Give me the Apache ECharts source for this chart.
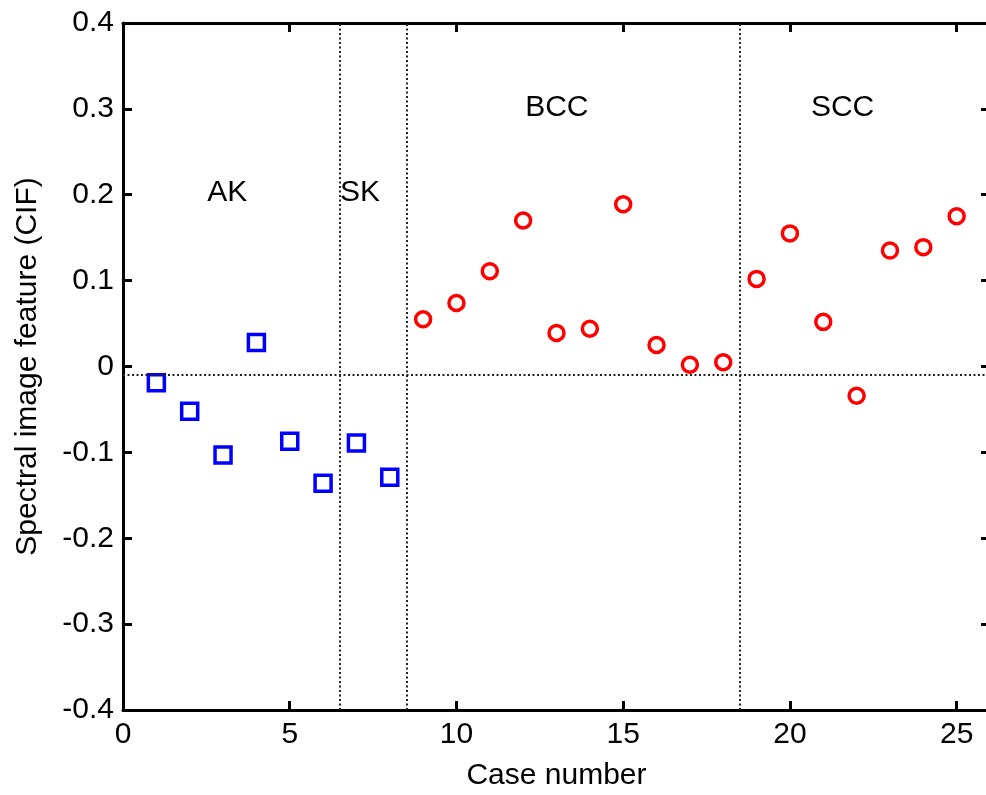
<!DOCTYPE html>
<html>
<head>
<meta charset="utf-8">
<script src="https://cdn.jsdelivr.net/npm/echarts@6/dist/echarts.min.js"></script>
<style>
html, body { margin: 0; padding: 0; background: #fff; }
#chart { width: 986px; height: 795px; }
</style>
</head>
<body>
<div id="chart"></div>
<script>
// Data
var keratosisCases = [1, 2, 3, 4, 5, 6, 7, 8];
var keratosisValues = [-0.019, -0.052, -0.103, 0.028, -0.087, -0.136, -0.089, -0.129];
var carcinomaCases = [9, 10, 11, 12, 13, 14, 15, 16, 17, 18, 19, 20, 21, 22, 23, 24, 25];
var carcinomaValues = [0.055, 0.074, 0.111, 0.170, 0.039, 0.044, 0.189, 0.025, 0.002, 0.005,
                       0.102, 0.155, 0.052, -0.034, 0.135, 0.139, 0.175];
var groupNames = ['AK', 'SK', 'BCC', 'SCC'];
var groupNameX = [3.13, 7.11, 13.01, 21.58];
var groupNameY = [0.202, 0.202, 0.301, 0.301];
var dividers = [6.5, 8.5, 18.5];
var threshold = -0.011;
var yTicks = [-0.4, -0.3, -0.2, -0.1, 0, 0.1, 0.2, 0.3, 0.4];
var xTickStep = 5;

var FONT = 'Liberation Sans, Arial, sans-serif';
var chart = echarts.init(document.getElementById('chart'), null, { renderer: 'canvas' });

function pairs(xs, ys) { return xs.map(function (x, i) { return [x, ys[i]]; }); }

var dotted = { color: '#222', width: 2, type: [2, 2.5], opacity: 1 };
var markLineData = dividers.map(function (d) { return { xAxis: d }; });
markLineData.push({ yAxis: threshold });

var axisLineStyle = { show: true, onZero: false, lineStyle: { color: '#000', width: 3 } };
var tickStyle = { show: true, inside: true, length: 9, lineStyle: { color: '#000', width: 3 } };

var option = {
  backgroundColor: '#fff',
  animation: false,
  grid: { left: 123, top: 23, width: 867, height: 687, containLabel: false, outerBoundsMode: 'none' },
  xAxis: [{
    type: 'value', position: 'bottom', min: 0, max: 26, interval: xTickStep,
    axisLine: axisLineStyle, axisTick: tickStyle, splitLine: { show: false },
    axisLabel: {
      color: '#000', fontSize: 30, fontFamily: FONT, margin: 10,
      formatter: function (v) { return (v % xTickStep === 0) ? String(v) : ''; }
    },
    name: 'Case number', nameLocation: 'middle', nameGap: 51,
    nameTextStyle: { color: '#000', fontSize: 30, fontFamily: FONT }
  }, {
    type: 'value', position: 'top', min: 0, max: 26, interval: xTickStep,
    axisLine: axisLineStyle, axisTick: tickStyle, splitLine: { show: false },
    axisLabel: { show: false }
  }],
  yAxis: [{
    type: 'value', position: 'left', min: yTicks[0], max: yTicks[yTicks.length - 1], interval: 0.1,
    axisLine: axisLineStyle, axisTick: tickStyle, splitLine: { show: false },
    axisLabel: { color: '#000', fontSize: 30, fontFamily: FONT, margin: 9 },
    name: 'Spectral image feature (CIF)', nameLocation: 'middle', nameGap: 80,
    nameTextStyle: { color: '#000', fontSize: 30, fontFamily: FONT }
  }, {
    type: 'value', position: 'right', min: yTicks[0], max: yTicks[yTicks.length - 1], interval: 0.1,
    axisLine: axisLineStyle, axisTick: tickStyle, splitLine: { show: false },
    axisLabel: { show: false }
  }],
  series: [{
    type: 'scatter', xAxisIndex: 0, yAxisIndex: 0,
    data: pairs(keratosisCases, keratosisValues),
    symbol: 'rect', symbolSize: 16,
    itemStyle: { color: 'rgba(255,255,255,0)', borderColor: '#0000ff', borderWidth: 3.5, opacity: 1 },
    markLine: {
      silent: true, symbol: ['none', 'none'], label: { show: false },
      lineStyle: dotted, data: markLineData, animation: false
    },
    z: 3
  }, {
    type: 'scatter', xAxisIndex: 0, yAxisIndex: 0,
    data: pairs(carcinomaCases, carcinomaValues),
    symbol: 'circle', symbolSize: 15,
    itemStyle: { color: 'rgba(255,255,255,0)', borderColor: '#ff0000', borderWidth: 3.5, opacity: 1 },
    z: 3
  }, {
    type: 'scatter', xAxisIndex: 0, yAxisIndex: 0,
    data: groupNames.map(function (n, i) { return { name: n, value: [groupNameX[i], groupNameY[i]] }; }),
    symbolSize: 0, silent: true,
    itemStyle: { opacity: 1 },
    label: {
      show: true, position: 'inside', formatter: '{b}',
      color: '#000', fontSize: 30, fontFamily: FONT, textBorderWidth: 0
    }
  }]
};
chart.setOption(option);
</script>
</body>
</html>
